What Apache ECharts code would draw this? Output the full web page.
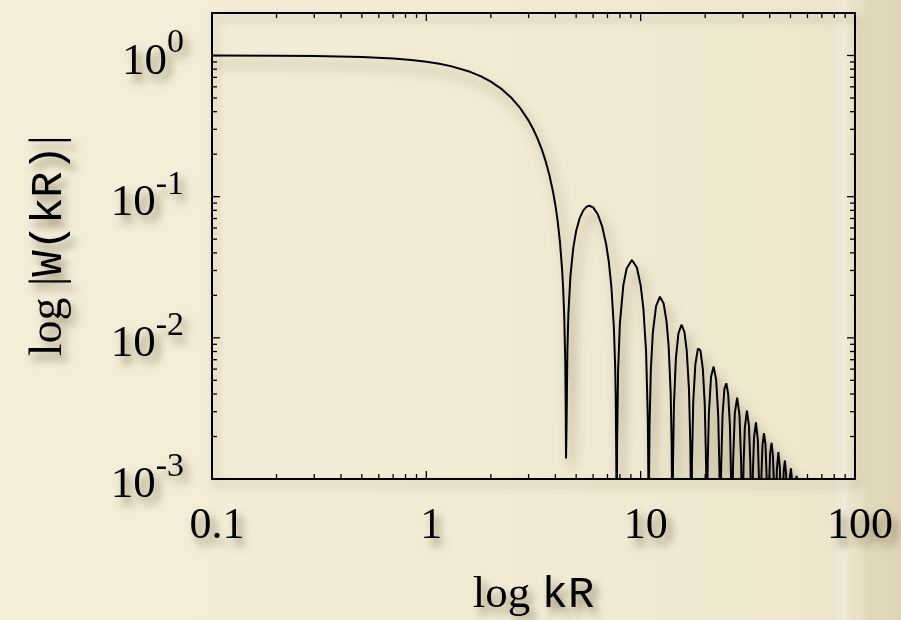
<!DOCTYPE html>
<html>
<head>
<meta charset="utf-8">
<script src="https://cdn.jsdelivr.net/npm/echarts@6/dist/echarts.min.js"></script>
<style>
  html, body { margin: 0; padding: 0; }
  body {
    width: 901px; height: 620px; overflow: hidden;
    background: linear-gradient(to right, #f3eed8 0%, #f2ecd5 50%, #efe8cf 88%, #ede6cd 92.5%, #efeadb 93.6%, #ebe3c9 94.6%, #e8e0c3 95.6%, #e2d9bc 96.2%, #dfd5b6 100%);
  }
  #chart { width: 901px; height: 620px; }
</style>
</head>
<body>
<div id="chart"></div>
<script>
// ---- curve: |W(kR)| (1e-5 marks a zero, below the 1e-3 floor) ----
const curveKR = [
  0.1, 0.2, 0.3, 0.5, 0.7, 0.85, 1.0, 1.15, 1.3, 1.6, 1.8, 2.0, 2.25, 2.5, 2.75, 3.0, 3.15, 3.3, 3.45, 3.6, 3.75, 3.9, 4.0, 4.1, 4.2, 4.3, 4.35, 4.4, 4.45, 4.47, 4.485,
  4.51, 4.55, 4.6, 4.7, 4.85, 5.0, 5.2, 5.4, 5.6, 5.76, 6.0, 6.3, 6.6, 6.9, 7.1, 7.3, 7.5, 7.6, 7.65, 7.7, 7.7253,
  7.76, 7.85, 8.0, 8.3, 8.6, 9.1, 9.6, 10.0, 10.3, 10.6, 10.8, 10.87, 10.9041,
  10.95, 11.0, 11.15, 11.4, 11.8, 12.3, 12.8, 13.2, 13.5, 13.8, 13.95, 14.03, 14.0662,
  14.15, 14.3, 14.6, 15.0, 15.5, 16.0, 16.4, 16.8, 17.05, 17.15, 17.2208,
  17.35, 17.6, 18.0, 18.5, 19.0, 19.5, 19.9, 20.2, 20.3, 20.3713,
  20.5, 20.55, 20.8, 21.3, 21.9, 22.5, 23.0, 23.3, 23.45, 23.5195,
  23.6, 23.75, 24.1, 24.6, 25.1, 25.6, 26.1, 26.45, 26.6661,
  26.85, 27.0, 27.5, 28.2, 28.9, 29.4, 29.6, 29.8116,
  30.1, 30.2, 30.6, 31.3, 32.0, 32.5, 32.7, 32.9564,
  33.3, 33.4, 33.8, 34.5, 35.2, 35.7, 36.1006,
  36.6, 37.0, 37.6, 38.2, 38.7, 39.2444,
  39.8, 40.2, 40.8, 41.4, 41.8, 42.3879,
  42.9, 43.2, 43.9, 44.6, 45.0, 45.5311,
  46.1, 46.5, 47.1, 47.7, 48.1, 48.6741,
  49.7, 50.25, 50.8, 51.817,
  53.0, 53.4, 53.8, 54.96
];
const curveW = [
  0.999, 0.996, 0.991, 0.975, 0.951, 0.9296, 0.9036, 0.8738, 0.841, 0.7663, 0.7113, 0.6531, 0.5772, 0.4995, 0.4217, 0.3457, 0.3015, 0.2589, 0.218, 0.1791, 0.1425, 0.1084, 0.0871, 0.067, 0.0481, 0.03046, 0.02219, 0.01411, 0.00648, 0.00332, 0.0014,
  0.00231, 0.00798, 0.01473, 0.02721, 0.04356, 0.05705, 0.07083, 0.08002, 0.08498, 0.0862, 0.08389, 0.07537, 0.06219, 0.04612, 0.03465, 0.02308, 0.01182, 0.00644, 0.00384, 0.001267, 0.00001,
  0.001714, 0.006008, 0.01266, 0.02353, 0.03099, 0.0356, 0.03146, 0.02354, 0.01601, 0.007976, 0.002663, 0.000878, 0.00001,
  0.001143, 0.002364, 0.005872, 0.010947, 0.01679, 0.019555, 0.017481, 0.013104, 0.008815, 0.004143, 0.001782, 0.000552, 0.00001,
  0.001251, 0.003402, 0.007147, 0.010706, 0.012384, 0.011012, 0.008155, 0.004333, 0.001757, 0.000726, 0.00001,
  0.001282, 0.003578, 0.0065, 0.008398, 0.008151, 0.006034, 0.003435, 0.001255, 0.00052, 0.00001,
  0.000915, 0.001262, 0.002879, 0.005293, 0.006255, 0.005047, 0.002811, 0.001201, 0.000377, 0.00001,
  0.000433, 0.001214, 0.00283, 0.004373, 0.004765, 0.004006, 0.002361, 0.000918, 0.00001,
  0.000765, 0.001348, 0.002937, 0.003772, 0.002839, 0.001389, 0.000719, 0.00001,
  0.000941, 0.001246, 0.002271, 0.003053, 0.002394, 0.001251, 0.000711, 0.00001,
  0.00091, 0.001154, 0.001961, 0.002521, 0.001897, 0.000918, 0.00001,
  0.001072, 0.001715, 0.002117, 0.001777, 0.001037, 0.00001,
  0.000999, 0.001516, 0.001802, 0.001461, 0.000952, 0.00001,
  0.000799, 0.001166, 0.001554, 0.00121, 0.00075, 0.00001,
  0.00076, 0.001143, 0.001353, 0.001091, 0.000704, 0.00001,
  0.001039, 0.001188, 0.000989, 0.00001,
  0.000989, 0.001052, 0.00095, 0.00001
];

// ---- axes ----
const xMin = 0.1, xMax = 100;
const yMin = 0.001, yMax = 2;
const xTickLabels = { '-1': '0.1', '0': '1', '1': '10', '2': '100' };
const yTickExponents = ['-3', '-2', '-1', '0'];
const xTicksMajor = [1, 10];
const xTicksMinor = [0.2, 0.3, 0.4, 0.5, 0.6, 0.7, 0.8, 0.9, 2, 3, 4, 5, 6, 7, 8, 9, 20, 30, 40, 50, 60, 70, 80, 90];
const yTicksMajor = [0.01, 0.1, 1];
const yTicksMinor = [0.002, 0.003, 0.004, 0.005, 0.006, 0.007, 0.008, 0.009,
                     0.02, 0.03, 0.04, 0.05, 0.06, 0.07, 0.08, 0.09,
                     0.2, 0.3, 0.4, 0.5, 0.6, 0.7, 0.8, 0.9];
const xAxisTitle = ['log', 'kR'];
const yAxisTitle = ['log |', 'W(kR)', '|'];

const MAJOR_LEN = 8, MINOR_LEN = 5;
const curveData = curveKR.map((x, i) => [x, curveW[i]]);
const tickData = [];
xTicksMajor.forEach(v => tickData.push([v, yMin, 0, MAJOR_LEN]));
xTicksMinor.forEach(v => tickData.push([v, yMin, 0, MINOR_LEN]));
yTicksMajor.forEach(v => tickData.push([xMin, v, 1, MAJOR_LEN]));
yTicksMinor.forEach(v => tickData.push([xMin, v, 1, MINOR_LEN]));

const SERIF = '"Liberation Serif", "DejaVu Serif", serif';
const MONO = '"Liberation Mono", "DejaVu Sans Mono", monospace';
const shadowText = { textShadowColor: 'rgba(70,55,20,0.55)', textShadowBlur: 9, textShadowOffsetX: 5, textShadowOffsetY: 7 };

function decadeOf(v) {
  const e = Math.round(Math.log10(v));
  return Math.abs(Math.log10(v) - e) < 1e-6 ? e : null;
}

const chart = echarts.init(document.getElementById('chart'), null, { renderer: 'canvas' });
chart.setOption({
  backgroundColor: 'transparent',
  animation: false,
  grid: {
    left: 212, right: 46, top: 13, bottom: 141,
    containLabel: false, outerBoundsMode: 'none',
    show: true, backgroundColor: 'transparent', borderColor: '#000', borderWidth: 2,
    shadowColor: 'rgba(70,55,20,0.35)', shadowBlur: 8, shadowOffsetX: 4, shadowOffsetY: 6
  },
  xAxis: {
    type: 'log', logBase: 10, min: xMin, max: xMax,
    axisLine: { show: false }, axisTick: { show: false }, splitLine: { show: false },
    axisLabel: {
      margin: 25, fontFamily: SERIF, fontSize: 44, color: '#000', padding: [0, 0, 0, 10],
      ...shadowText,
      formatter: v => { const e = decadeOf(v); return e === null ? '' : (xTickLabels[String(e)] || ''); }
    },
    name: '{s|' + xAxisTitle[0] + ' }{m|' + xAxisTitle[1] + '}',
    nameLocation: 'middle', nameGap: 94,
    nameTextStyle: {
      ...shadowText,
      rich: {
        s: { fontFamily: SERIF, fontSize: 45, color: '#000', ...shadowText },
        m: { fontFamily: MONO, fontSize: 44, color: '#000', ...shadowText }
      }
    }
  },
  yAxis: {
    type: 'log', logBase: 10, min: yMin, max: yMax,
    axisLine: { show: false }, axisTick: { show: false }, splitLine: { show: false },
    axisLabel: {
      margin: 28,
      formatter: v => {
        const e = decadeOf(v);
        if (e === null || yTickExponents.indexOf(String(e)) < 0) return '';
        return '{a|10}{b|' + e + '}';
      },
      rich: {
        a: { fontFamily: SERIF, fontSize: 45, lineHeight: 58, color: '#000', verticalAlign: 'bottom', ...shadowText },
        b: { fontFamily: SERIF, fontSize: 34, lineHeight: 34, color: '#000', verticalAlign: 'top', ...shadowText }
      }
    },
    name: '{s|' + yAxisTitle[0] + '}{m|' + yAxisTitle[1] + '}{s|' + yAxisTitle[2] + '}',
    nameLocation: 'middle', nameGap: 140, nameRotate: 90,
    nameTextStyle: {
      rich: {
        s: { fontFamily: SERIF, fontSize: 46, color: '#000', ...shadowText },
        m: { fontFamily: MONO, fontSize: 44, color: '#000', ...shadowText }
      }
    }
  },
  series: [
    {
      type: 'line', data: curveData, showSymbol: false, smooth: false, clip: true,
      lineStyle: { color: '#000', width: 2, shadowColor: 'rgba(70,55,20,0.55)', shadowBlur: 12, shadowOffsetX: 5, shadowOffsetY: 9 },
      z: 3
    },
    {
      type: 'custom', data: tickData, clip: false, z: 4, silent: true,
      renderItem: (params, api) => {
        const kind = api.value(2), len = api.value(3);
        if (kind === 0) {
          const pb = api.coord([api.value(0), yMin]);
          const pt = api.coord([api.value(0), yMax]);
          return { type: 'group', children: [
            { type: 'line', shape: { x1: pb[0], y1: pb[1], x2: pb[0], y2: pb[1] - len }, style: { stroke: '#000', lineWidth: 1.3 } },
            { type: 'line', shape: { x1: pt[0], y1: pt[1], x2: pt[0], y2: pt[1] + len }, style: { stroke: '#000', lineWidth: 1.3 } }
          ]};
        }
        const pl = api.coord([xMin, api.value(1)]);
        const pr = api.coord([xMax, api.value(1)]);
        return { type: 'group', children: [
          { type: 'line', shape: { x1: pl[0], y1: pl[1], x2: pl[0] + len, y2: pl[1] }, style: { stroke: '#000', lineWidth: 1.3 } },
          { type: 'line', shape: { x1: pr[0], y1: pr[1], x2: pr[0] - len, y2: pr[1] }, style: { stroke: '#000', lineWidth: 1.3 } }
        ]};
      }
    }
  ]
});
</script>
</body>
</html>
